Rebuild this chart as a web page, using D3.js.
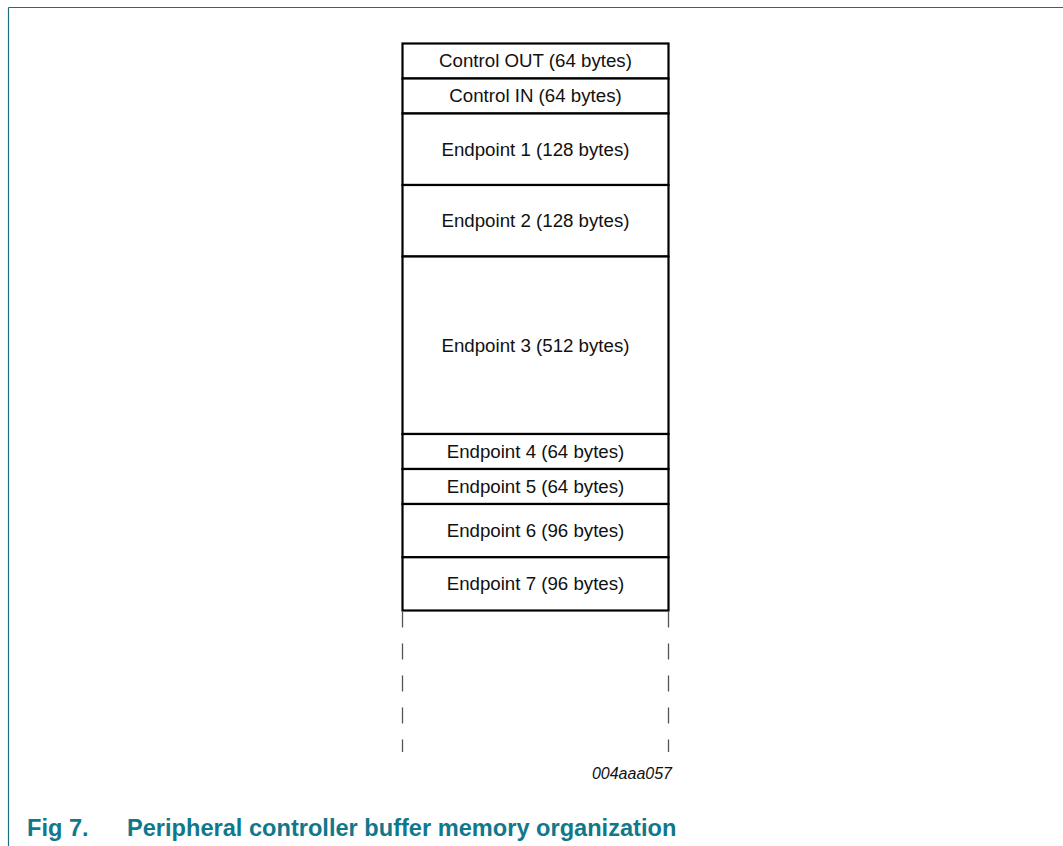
<!DOCTYPE html>
<html>
<head>
<meta charset="utf-8">
<script src="https://cdn.jsdelivr.net/npm/d3@7"></script>
<style>
  html, body { margin: 0; padding: 0; background: #ffffff; }
  svg { display: block; }
</style>
</head>
<body>
<script>
// ---- data ----
const buffers = ["Control OUT", "Control IN", "Endpoint 1", "Endpoint 2", "Endpoint 3",
                 "Endpoint 4", "Endpoint 5", "Endpoint 6", "Endpoint 7"];
const bufferBytes = [64, 64, 128, 128, 512, 64, 64, 96, 96];
const figureNumber = "Fig 7.";
const figureTitle = "Peripheral controller buffer memory organization";
const figureCode = "004aaa057";

// ---- layout ----
const W = 1063, H = 846;
const svg = d3.select("body").append("svg").attr("width", W).attr("height", H);

const teal = "#11788c";
const frame = "#1b6d7f";

// frame lines (top and left)
svg.append("line").attr("x1", 8.5).attr("y1", 7.5).attr("x2", W).attr("y2", 7.5)
  .attr("stroke", frame).attr("stroke-width", 1.2);
svg.append("line").attr("x1", 8.5).attr("y1", 7.5).attr("x2", 8.5).attr("y2", H)
  .attr("stroke", frame).attr("stroke-width", 1.2);

// height scale (display compresses the large block)
const hScale = d3.scaleLinear().domain([0, 64, 128, 512]).range([0, 35, 71.5, 177.5]);
const x = d3.scaleLinear().domain([0, 1]).range([402.5, 668.5]);
const top0 = 43.5;

let acc = top0;
const blocks = buffers.map((name, i) => {
  const h = hScale(bufferBytes[i]);
  const b = { name, bytes: bufferBytes[i], y: acc, h };
  acc += h;
  return b;
});
const bottom = acc;

const g = svg.append("g");
g.selectAll("rect").data(blocks).join("rect")
  .attr("x", x(0)).attr("y", d => d.y)
  .attr("width", x(1) - x(0)).attr("height", d => d.h)
  .attr("fill", "#ffffff").attr("stroke", "#000").attr("stroke-width", 2.2);

g.selectAll("text.lbl").data(blocks).join("text")
  .attr("class", "lbl")
  .attr("x", (x(0) + x(1)) / 2)
  .attr("y", d => d.y + d.h / 2 + 6.3)
  .attr("text-anchor", "middle")
  .attr("font-family", "'Liberation Sans', Arial, sans-serif")
  .attr("font-size", 18.7)
  .attr("fill", "#111")
  .text(d => `${d.name} (${d.bytes} bytes)`);

// dashed continuation lines
[x(0), x(1)].forEach(xx => {
  svg.append("line").attr("x1", xx).attr("x2", xx)
    .attr("y1", bottom + 1).attr("y2", 752)
    .attr("stroke", "#555").attr("stroke-width", 1.3)
    .attr("stroke-dasharray", "16,16");
});

// figure code
svg.append("text").attr("x", 672).attr("y", 779)
  .attr("text-anchor", "end")
  .attr("font-family", "'Liberation Sans', Arial, sans-serif")
  .attr("font-style", "italic").attr("font-size", 16).attr("fill", "#111")
  .text(figureCode);

// caption
svg.append("text").attr("x", 27).attr("y", 836)
  .attr("font-family", "'Liberation Sans', Arial, sans-serif")
  .attr("font-weight", "bold").attr("font-size", 23.6).attr("fill", teal)
  .text(figureNumber);
svg.append("text").attr("x", 127).attr("y", 836)
  .attr("font-family", "'Liberation Sans', Arial, sans-serif")
  .attr("font-weight", "bold").attr("font-size", 23.6).attr("fill", teal)
  .text(figureTitle);
</script>
</body>
</html>
